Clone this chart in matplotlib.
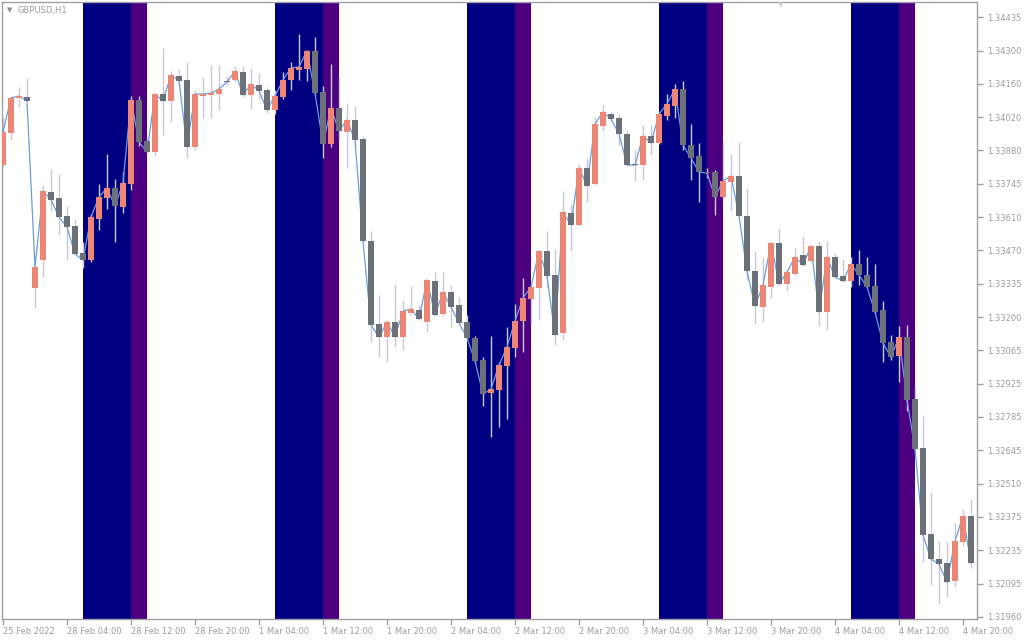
import matplotlib
matplotlib.use("Agg")
import matplotlib.pyplot as plt
import numpy as np

# GBPUSD H1 candles, bar 0 = leftmost bar
opens = [1.33825, 1.33957, 1.34102, 1.34106, 1.33317, 1.33433, 1.33714, 1.33689, 1.33615, 1.33573,
         1.33462, 1.33433, 1.33602, 1.33689, 1.33730, 1.33652, 1.33747, 1.34094, 1.33924, 1.33879,
         1.34118, 1.34089, 1.34193, 1.34176, 1.33900, 1.34110, 1.34114, 1.34118, 1.34172, 1.34176,
         1.34209, 1.34114, 1.34155, 1.34135, 1.34052, 1.34106, 1.34176, 1.34217, 1.34222, 1.34296,
         1.34126, 1.33912, 1.34060, 1.33961, 1.34011, 1.33933, 1.33511, 1.33169, 1.33115, 1.33177,
         1.33115, 1.33214, 1.33226, 1.33177, 1.33346, 1.33210, 1.33301, 1.33247, 1.33177, 1.33111,
         1.33020, 1.32884, 1.32896, 1.32995, 1.33070, 1.33181, 1.33272, 1.33317, 1.33470, 1.33371,
         1.33131, 1.33627, 1.33577, 1.33813, 1.33747, 1.33986, 1.34036, 1.34019, 1.33953, 1.33829,
         1.33825, 1.33945, 1.33916, 1.34027, 1.34069, 1.34139, 1.33908, 1.33862, 1.33796, 1.33796,
         1.33693, 1.33755, 1.33780, 1.33615, 1.33387, 1.33239, 1.33321, 1.33503, 1.33334, 1.33375,
         1.33453, 1.33429, 1.33491, 1.33218, 1.33445, 1.33367, 1.33346, 1.33416, 1.33371, 1.33326,
         1.33226, 1.33094, 1.33036, 1.33115, 1.32859, 1.32657, 1.32302, 1.32198, 1.32182, 1.32107,
         1.32268, 1.32376]
highs = [1.34023, 1.34110, 1.34147, 1.34184, 1.33425, 1.33743, 1.33809, 1.33788, 1.33656, 1.33602,
         1.33507, 1.33623, 1.33747, 1.33871, 1.33767, 1.33796, 1.34110, 1.34110, 1.33941, 1.34122,
         1.34308, 1.34213, 1.34222, 1.34250, 1.34135, 1.34188, 1.34238, 1.34238, 1.34193, 1.34234,
         1.34234, 1.34226, 1.34205, 1.34147, 1.34135, 1.34209, 1.34250, 1.34366, 1.34300, 1.34354,
         1.34151, 1.34242, 1.34188, 1.34081, 1.34069, 1.33945, 1.33553, 1.33288, 1.33185, 1.33334,
         1.33268, 1.33326, 1.33247, 1.33354, 1.33383, 1.33383, 1.33330, 1.33280, 1.33206, 1.33119,
         1.33032, 1.33119, 1.33012, 1.33156, 1.33251, 1.33359, 1.33330, 1.33474, 1.33553, 1.33478,
         1.33718, 1.33664, 1.33829, 1.33854, 1.34023, 1.34073, 1.34044, 1.34036, 1.33970, 1.33887,
         1.33990, 1.33990, 1.34044, 1.34118, 1.34160, 1.34172, 1.33994, 1.33916, 1.33813, 1.33805,
         1.33920, 1.33871, 1.33920, 1.33730, 1.33470, 1.33445, 1.33507, 1.33565, 1.33392, 1.33482,
         1.33532, 1.33495, 1.33511, 1.33511, 1.33462, 1.33437, 1.33445, 1.33474, 1.33445, 1.33416,
         1.33264, 1.33123, 1.33160, 1.33165, 1.32913, 1.32789, 1.32475, 1.32273, 1.32268, 1.32347,
         1.32405, 1.32446]
lows = [1.33817, 1.33928, 1.34065, 1.34089, 1.33235, 1.33363, 1.33635, 1.33536, 1.33433, 1.33458,
        1.33400, 1.33425, 1.33557, 1.33643, 1.33507, 1.33627, 1.33722, 1.33904, 1.33875, 1.33862,
        1.33949, 1.34003, 1.34151, 1.33854, 1.33887, 1.34019, 1.34019, 1.34052, 1.34155, 1.34168,
        1.34106, 1.34056, 1.34098, 1.34040, 1.34036, 1.34098, 1.34135, 1.34176, 1.34172, 1.34114,
        1.33854, 1.33900, 1.33928, 1.33813, 1.33904, 1.33503, 1.33094, 1.33032, 1.33012, 1.33074,
        1.33061, 1.33206, 1.33185, 1.33136, 1.33202, 1.33202, 1.33156, 1.33165, 1.33103, 1.33008,
        1.32830, 1.32702, 1.32743, 1.32776, 1.33032, 1.33053, 1.33169, 1.33185, 1.33317, 1.33082,
        1.33103, 1.33470, 1.33573, 1.33672, 1.33743, 1.33966, 1.34007, 1.33908, 1.33821, 1.33759,
        1.33763, 1.33866, 1.33912, 1.34011, 1.34019, 1.33887, 1.33763, 1.33672, 1.33771, 1.33619,
        1.33681, 1.33635, 1.33610, 1.33350, 1.33169, 1.33177, 1.33276, 1.33330, 1.33305, 1.33371,
        1.33408, 1.33425, 1.33160, 1.33144, 1.33359, 1.33342, 1.33321, 1.33330, 1.33317, 1.33214,
        1.33012, 1.33020, 1.32929, 1.32809, 1.32640, 1.32186, 1.32091, 1.32012, 1.32041, 1.32083,
        1.32252, 1.32161]
closes = [1.33961, 1.34102, 1.34110, 1.34089, 1.33404, 1.33718, 1.33681, 1.33610, 1.33569, 1.33458,
          1.33433, 1.33610, 1.33693, 1.33730, 1.33656, 1.33751, 1.34094, 1.33920, 1.33879, 1.34118,
          1.34089, 1.34197, 1.34172, 1.33900, 1.34118, 1.34118, 1.34122, 1.34139, 1.34168, 1.34213,
          1.34114, 1.34160, 1.34131, 1.34052, 1.34110, 1.34176, 1.34226, 1.34230, 1.34296, 1.34122,
          1.33912, 1.34060, 1.33966, 1.34011, 1.33928, 1.33511, 1.33165, 1.33115, 1.33177, 1.33115,
          1.33222, 1.33231, 1.33189, 1.33350, 1.33206, 1.33301, 1.33239, 1.33173, 1.33111, 1.33016,
          1.32880, 1.32900, 1.32999, 1.33074, 1.33181, 1.33276, 1.33321, 1.33470, 1.33367, 1.33123,
          1.33631, 1.33577, 1.33813, 1.33739, 1.33994, 1.34044, 1.34015, 1.33953, 1.33825, 1.33825,
          1.33945, 1.33916, 1.34036, 1.34077, 1.34139, 1.33908, 1.33854, 1.33796, 1.33792, 1.33693,
          1.33759, 1.33780, 1.33615, 1.33387, 1.33243, 1.33330, 1.33503, 1.33334, 1.33383, 1.33445,
          1.33412, 1.33491, 1.33218, 1.33445, 1.33363, 1.33346, 1.33416, 1.33371, 1.33321, 1.33218,
          1.33090, 1.33032, 1.33115, 1.32855, 1.32653, 1.32297, 1.32198, 1.32178, 1.32103, 1.32273,
          1.32376, 1.32182]

# session boxes (bar indices where the blue box starts)
session_starts = [10, 34, 58, 82, 106]
blue_len = 6
purple_len = 2

x_labels = ['25 Feb 2022', '28 Feb 04:00', '28 Feb 12:00', '28 Feb 20:00', '1 Mar 04:00',
            '1 Mar 12:00', '1 Mar 20:00', '2 Mar 04:00', '2 Mar 12:00', '2 Mar 20:00',
            '3 Mar 04:00', '3 Mar 12:00', '3 Mar 20:00', '4 Mar 04:00', '4 Mar 12:00',
            '4 Mar 20:00']
y_labels = ['1.34435', '1.34300', '1.34160', '1.34020', '1.33880', '1.33745', '1.33610',
            '1.33470', '1.33335', '1.33200', '1.33065', '1.32925', '1.32785', '1.32645',
            '1.32510', '1.32375', '1.32235', '1.32095', '1.31960']

UP = '#ee8676'
DOWN = '#6c7179'
WICK = '#c9c9d3'
AXIS = '#a0a0a6'
TEXT = '#9c9ca4'

o = np.array(opens)
h = np.array(highs)
l = np.array(lows)
c = np.array(closes)
x = np.arange(len(o))

fig = plt.figure(figsize=(10.24, 6.4), dpi=100)
ax = fig.add_axes([2 / 1024, 21 / 640, 975 / 1024, 617 / 640])
ax.set_facecolor('white')

for s in session_starts:
    ax.axvspan(s, s + blue_len, color='#000080', lw=0, zorder=0)
    ax.axvspan(s + blue_len, s + blue_len + purple_len, color='#4b0082', lw=0, zorder=0)

ax.vlines(x, l, h, color=WICK, lw=1, zorder=2)
ax.plot(x, c, color='#6a9fdc', lw=0.9, zorder=3)

up = c >= o
body = np.maximum(np.abs(c - o), 0.00004)
bottom = np.minimum(o, c)
ax.bar(x[up], body[up], bottom=bottom[up], width=0.86, color=UP, lw=0, zorder=4)
ax.bar(x[~up], body[~up], bottom=bottom[~up], width=0.86, color=DOWN, lw=0, zorder=4)

ax.set_xlim(-0.125, 121.75)
ax.set_ylim(1.31951, 1.34498)

ax.yaxis.tick_right()
ax.set_yticks(np.linspace(1.31960, 1.34435, len(y_labels))[::-1])
ax.set_yticklabels(y_labels)
ax.set_xticks(np.arange(0, 8 * len(x_labels), 8))
ax.set_xticklabels(x_labels, ha='left')
ax.tick_params(axis='both', direction='out', length=4, width=1, color=AXIS,
               labelcolor=TEXT, labelsize=6)
ax.tick_params(axis='y', pad=3)
ax.tick_params(axis='x', pad=2)
for sp in ax.spines.values():
    sp.set_color(AXIS)
    sp.set_linewidth(1)

fig.text(7 / 1024, 1 - 10 / 640, '\u25bc', fontsize=5, color='#8c8c94', va='center')
fig.text(18 / 1024, 1 - 10 / 640, 'GBPUSD,H1', fontsize=6, color=TEXT, va='center')
fig.text(781 / 1024, 1 - 5 / 640, '\u25bc', fontsize=5, color='#d0d0d8', va='center', ha='center')

fig.savefig('out.png', dpi=100)
